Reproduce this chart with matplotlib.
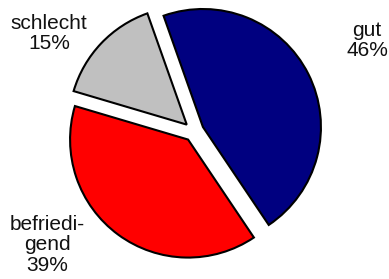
"""Pie chart: rating split gut / befriedigend / schlecht, exploded wedges."""
import matplotlib; matplotlib.use("Agg")
import matplotlib.pyplot as plt

plt.rcParams["font.family"] = ["Liberation Sans", "DejaVu Sans"]

LABELS = ["gut", "befriedi-\ngend", "schlecht"]
VALUES = [46, 39, 15]
COLORS = ["#000080", "#ff0000", "#c0c0c0"]

W, H = 389, 279
CX, CY, R = 194, H - 131.5, 118            # pie centre / radius in pixel units
LABEL_POS = [(367, H - 40.5), (47, H - 245), (49, H - 33.5)]

fig = plt.figure(figsize=(W / 100, H / 100), dpi=100)
ax = fig.add_axes([0, 0, 1, 1])
# explode is an absolute offset in data units (= pixels here)
wedges, _ = ax.pie(VALUES, explode=[10] * len(VALUES), colors=COLORS,
                   startangle=109.5, counterclock=False, radius=R, center=(CX, CY),
                   wedgeprops=dict(edgecolor="black", linewidth=1.5, joinstyle="miter"))
for lab, v, (x, y) in zip(LABELS, VALUES, LABEL_POS):
    ax.text(x, y, f"{lab}\n{v}%", ha="center", va="center", multialignment="center",
            fontsize=15, color="#111111", linespacing=1.1)
ax.set_xlim(0, W); ax.set_ylim(0, H); ax.set_aspect("equal"); ax.axis("off")
fig.savefig("out.png", dpi=100)
